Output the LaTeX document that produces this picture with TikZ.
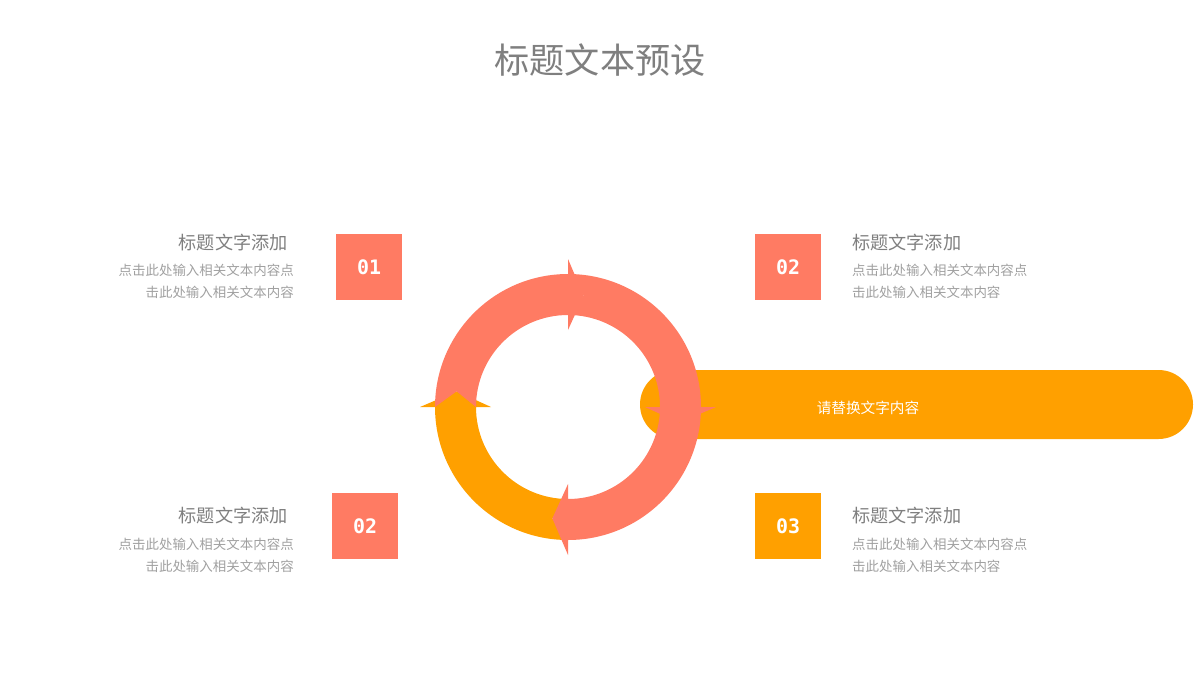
\documentclass[tikz,border=0pt]{standalone}
\usepackage{fontspec}
\setmainfont{Noto Sans CJK SC}
\newfontfamily\numfont{DejaVu Sans Mono}
\definecolor{coral}{HTML}{FF7B63}
\definecolor{amber}{HTML}{FFA000}
\definecolor{txtgray}{HTML}{7F7F7F}
\definecolor{bodygray}{HTML}{A0A0A0}
\tikzset{
  numbox/.style={minimum size=66*0.03cm, inner sep=0pt, text=white, font=\numfont\bfseries\fontsize{17}{17}\selectfont},
  headtxt/.style={text=txtgray, font=\fontsize{15.5}{18}\selectfont, inner sep=0pt},
  bodytxt/.style={text=bodygray, font=\fontsize{11.5}{19}\selectfont, inner sep=0pt}
}
% one ring segment with notch at the tail and a tip at the head
\newcommand{\ringseg}[3]{%
  \fill[#3] (#1:133) arc[start angle=#1, end angle=#2, radius=133]
    -- (#2:148) -- (#2+8:112.5) -- (#2:77) -- (#2:92)
    arc[start angle=#2, end angle=#1, radius=92] -- (#1+8:112.5) -- cycle;}
\begin{document}
\begin{tikzpicture}[x=0.03cm, y=-0.03cm]
  \useasboundingbox (0,0) rectangle (1200,675);

  \node[text=txtgray, font=\fontsize{30}{30}\selectfont] (title) at (600,60) {标题文本预设};

  % bar behind the ring
  \fill[amber, rounded corners=34.5*0.03cm] (640,370) rectangle (1193,439);
  \node[text=white, font=\fontsize{12.5}{14}\selectfont] (bartxt) at (868,408) {请替换文字内容};

  % ring
  \begin{scope}[shift={(568,407)}]
    \ringseg{90}{180}{amber}
    \ringseg{180}{270}{coral}
    \ringseg{270}{360}{coral}
    \ringseg{0}{90}{coral}
  \end{scope}

  % boxes
  \node[numbox, fill=coral] (n1) at (369,267) {01};
  \node[numbox, fill=coral] (n2) at (788,267) {02};
  \node[numbox, fill=coral] (n3) at (365,526) {02};
  \node[numbox, fill=amber] (n4) at (788,526) {03};

  % left texts
  \node[headtxt, anchor=east] (h1) at (288,243) {标题文字添加};
  \node[bodytxt, anchor=north east, align=right] (b1) at (294,264) {点击此处输入相关文本内容点\\击此处输入相关文本内容};
  \node[headtxt, anchor=east] (h3) at (288,516) {标题文字添加};
  \node[bodytxt, anchor=north east, align=right] (b3) at (294,538) {点击此处输入相关文本内容点\\击此处输入相关文本内容};

  % right texts
  \node[headtxt, anchor=west] (h2) at (852,243) {标题文字添加};
  \node[bodytxt, anchor=north west, align=left] (b2) at (852,264) {点击此处输入相关文本内容点\\击此处输入相关文本内容};
  \node[headtxt, anchor=west] (h4) at (852,516) {标题文字添加};
  \node[bodytxt, anchor=north west, align=left] (b4) at (852,538) {点击此处输入相关文本内容点\\击此处输入相关文本内容};
\end{tikzpicture}
\end{document}
